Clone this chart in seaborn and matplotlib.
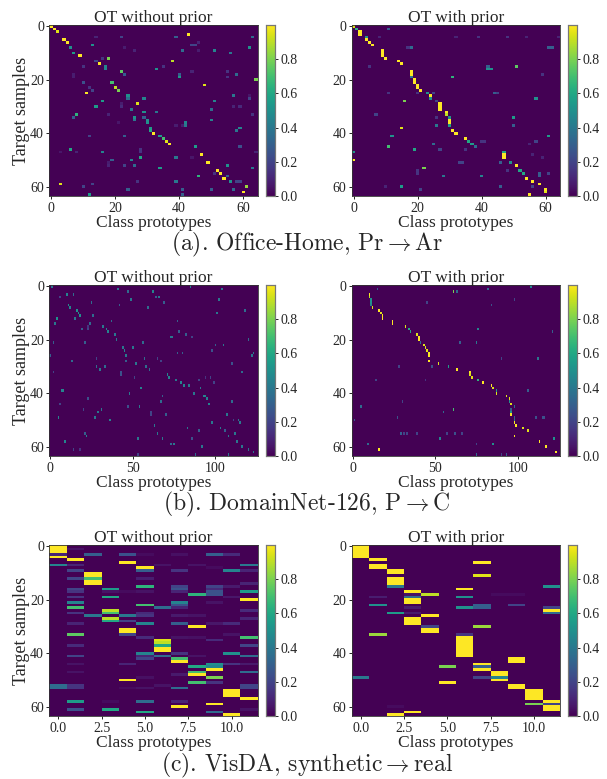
import numpy as np
import matplotlib
matplotlib.use("Agg")
import matplotlib.pyplot as plt
import seaborn as sb

sb.set_theme(style="white")
plt.rcParams['font.family'] = ['Liberation Serif', 'DejaVu Serif']
plt.rcParams['mathtext.fontset'] = 'cm'

n_rows = 64

# cells: (row, column, value), everything else is 0
office_without = [
    (0,0,1),(1,1,1),(2,2,.95),(5,4,1),(6,5,1),(8,6,.5),(10,7,.55),(11,9,1),(14,15,1),(12,18,.8),(7,13,.5),
    (21,19,.7),(23,20,.9),(24,21,.8),(17,22,.75),(18,23,.3),(15,17,.45),(16,17,.45),(25,11,1),(30,14,.55),
    (28,16,.55),(33,8,.65),(34,7,.3),(26,24,.5),(27,24,.35),(29,27,.95),(27,29,.45),(31,25,.4),(32,29,.5),
    (32,33,.4),(34,26,.5),(35,26,.4),(34,29,.3),(35,30,.5),(36,30,.5),(38,31,.55),(39,31,.6),(40,32,1),
    (41,34,.55),(42,35,.7),(43,36,.95),(44,37,1),(45,45,.55),(48,47,1),(51,49,1),(54,52,1),(55,53,1),(57,54,1),
    (56,55,.3),(58,56,.5),(61,57,.35),(62,60,1),(60,61,.85),(52,55,.5),(56,46,.65),(53,34,.55),(49,28,.6),
    (50,25,.45),(52,26,.35),(50,19,.3),(46,6,.6),(47,16,.45),(49,39,.4),(41,23,.3),(41,12,.2),(59,3,.95),
    (63,12,.55),(61,24,.3),(58,39,.4),(61,41,.3),(63,41,.3),(61,50,.3),(60,10,.2),(59,13,.2),(3,43,1),(13,38,.9),
    (16,33,.5),(18,40,.3),(19,40,.55),(22,48,.95),(20,64,.8),(4,63,.35),(8,62,.5),(10,56,.4),(9,51,.45),(9,41,.35),
    (4,39,.3),(4,22,.2),(7,44,.2),(7,45,.2),(18,58,.35),(26,57,.4),(28,51,.45),(31,50,.35),(35,50,.45),(38,59,.45),
    (39,58,.4),(36,42,.45),(37,42,.4),(45,59,.25),(53,63,.4),(33,63,.15),(27,62,.2),(21,10,.25),(15,10,.15),
    (23,12,.15),(24,13,.2),(13,14,.2),(12,16,.15),(15,35,.15),(17,44,.1),(17,55,.15),(19,55,.15),(19,7,.08),
    (18,7,.08),(46,28,.15),(47,28,.15),(52,18,.1),(52,23,.2),(55,51,.15),(58,59,.2),(58,58,.2),(47,64,.1),
    (58,27,.15),(4,14,.1),(9,26,.1),(8,23,.08),(30,22,.12),(29,22,.08),(30,57,.1),(30,59,.12),(37,41,.08),
    (37,39,.08),(33,18,.1),(47,3,.06),(47,8,.1),(51,18,.08),(49,44,.06),(36,21,.06),(26,62,.06),(6,46,.1),(9,46,.08),
]
office_with = [
    (0,0,.95),(1,1,.65),(2,2,1),(3,2,1),(4,4,.5),(5,4,1),(6,5,1),(7,6,1),(9,9,1),(10,9,1),(11,9,1),(12,10,1),
    (1,11,.3),(13,14,1),(14,15,1),(17,18,1),(18,18,1),(19,18,.4),(20,19,1),(21,19,1),(22,20,1),(23,20,1),(24,21,1),
    (25,23,.5),(26,24,1),(27,24,.5),(29,27,1),(30,27,1),(31,27,1),(32,29,1),(33,29,.9),(34,30,.5),(35,30,1),
    (36,30,1),(37,30,.55),(39,31,1),(40,32,1),(42,35,1),(43,36,.6),(44,37,.55),(45,38,.35),(47,47,.6),(48,47,1),
    (49,47,1),(51,49,.5),(51,46,.3),(52,51,1),(54,52,.6),(55,53,.6),(57,54,1),(58,56,1),(59,58,1),(61,60,1),
    (62,60,.95),(63,55,1),(15,51,.75),(15,42,.3),(16,42,.5),(16,43,.5),(19,31,.65),(28,16,.8),(38,15,.95),(41,12,.5),
    (45,11,.7),(46,19,.6),(53,22,.8),(47,0,.5),(50,0,1),(60,15,.55),(56,28,.4),(56,40,.45),(34,50,.55),(37,50,.3),
    (27,57,.5),(41,61,.55),(8,61,.3),(8,62,.3),(8,18,.35),(8,17,.15),(25,44,.3),(25,45,.2),(44,25,.35),(34,26,.15),
    (37,26,.4),(51,33,.2),(51,34,.2),(55,58,.3),(56,58,.3),(54,20,.15),(55,20,.15),(61,21,.2),(33,7,.2),(15,5,.15),
    (18,59,.15),(46,27,.2),(46,35,.15),(43,40,.15),(43,41,.15),(43,57,.2),(44,55,.1),(48,56,.1),(60,46,.3),(60,56,.2),
    (55,61,.2),(60,10,.1),(25,11,.15),(25,25,.2),(4,39,.15),(4,32,.1),(4,48,.15),(4,54,.1),(4,64,.1),(4,8,.1),
    (49,59,.1),(54,48,.15),(28,26,.2),(25,20,.15),
]
domain_without = [
    (0,1,.4),(1,41,.4),(2,47,.35),(2,62,.45),(0,85,.45),(1,104,.4),(3,10,.45),(3,14,.35),(4,6,.2),(4,64,.3),(4,66,.4),
    (5,49,.4),(6,69,.3),(6,25,.35),(5,102,.4),(7,11,.5),(8,12,.45),(7,42,.3),(8,59,.35),(9,16,.5),(10,17,.5),(11,18,.5),
    (9,118,.35),(10,101,.4),(11,26,.35),(12,4,.5),(12,15,.4),(14,3,.4),(14,24,.35),(13,37,.35),(13,77,.3),(15,32,.4),
    (16,34,.45),(17,35,.45),(16,19,.3),(15,23,.15),(16,23,.2),(18,39,.4),(20,40,.4),(17,78,.3),(18,82,.3),(19,73,.4),
    (19,74,.4),(19,86,.2),(20,120,.35),(21,2,.3),(21,21,.3),(21,56,.35),(23,44,.4),(24,45,.45),(23,50,.4),(22,100,.3),
    (22,105,.4),(24,98,.25),(25,77,.3),(25,80,.3),(26,46,.4),(28,46,.3),(26,122,.4),(25,123,.4),(26,0,.3),(27,57,.35),
    (27,65,.2),(27,28,.2),(28,13,.35),(29,52,.4),(28,67,.2),(29,110,.25),(30,28,.35),(30,33,.35),(31,30,.4),(30,58,.35),
    (31,60,.35),(32,2,.2),(32,43,.25),(33,43,.25),(32,116,.35),(33,71,.45),(34,72,.45),(35,76,.4),(36,79,.45),(37,81,.45),
    (37,84,.4),(34,51,.2),(35,90,.2),(34,94,.15),(34,97,.2),(36,99,.2),(38,55,.45),(38,91,.4),(39,7,.45),(39,8,.45),
    (40,87,.4),(40,48,.4),(41,68,.3),(41,93,.45),(41,94,.45),(42,95,.45),(44,96,.45),(42,23,.25),(43,67,.35),(43,110,.35),
    (45,54,.4),(44,6,.2),(45,47,.25),(46,31,.4),(47,29,.4),(49,27,.4),(46,20,.2),(49,5,.45),(47,61,.2),(48,61,.2),
    (48,70,.3),(48,107,.4),(50,36,.45),(50,111,.2),(50,114,.4),(51,115,.4),(51,98,.4),(52,63,.4),(53,83,.4),(54,90,.3),
    (53,103,.4),(54,106,.3),(56,108,.4),(55,112,.4),(55,65,.4),(55,21,.3),(56,22,.45),(57,53,.4),(57,68,.4),(57,86,.25),
    (58,9,.45),(58,113,.4),(59,73,.35),(59,75,.4),(60,92,.4),(60,116,.4),(61,120,.4),(62,123,.4),(61,14,.2),(63,88,.35),
    (63,108,.4),(63,53,.2),(61,18,.15),
]
domain_with = [
    (3,10,1),(4,10,.9),(5,11,.5),(6,11,.5),(7,11,.45),(8,12,.95),(9,16,1),(10,17,.95),(11,18,1),(12,18,1),(13,24,1),
    (14,24,1),(15,32,.95),(16,34,.6),(17,35,.6),(18,39,.95),(19,40,1),(20,40,1),(21,41,.35),(22,43,.95),(23,44,.95),
    (24,45,.95),(25,46,1),(26,46,1),(28,46,1),(29,52,.95),(30,58,.55),(31,63,1),(32,71,1),(33,71,.95),(34,72,.95),
    (35,76,.65),(36,79,1),(37,84,1),(38,85,.95),(39,87,.55),(40,87,.95),(41,93,.95),(42,95,.95),(43,95,.5),(44,96,.95),
    (46,96,.3),(47,96,.5),(48,96,1),(49,98,.3),(50,98,.35),(51,98,1),(52,99,1),(53,103,.95),(54,106,.95),(56,98,1),
    (58,113,1),(60,117,1),(62,123,1),(61,16,1),(2,61,.8),(2,63,.35),(0,108,.45),(1,82,.35),(1,15,.3),(7,84,.25),(5,98,.2),
    (6,45,.2),(16,76,.45),(21,75,.4),(21,65,.3),(17,121,.3),(27,112,.4),(27,90,.2),(30,28,.2),(35,14,.2),(35,44,.15),
    (39,106,.3),(45,98,.35),(45,5,.35),(43,30,.2),(46,61,.7),(47,55,.35),(49,27,.25),(50,1,.3),(49,111,.25),(49,115,.25),
    (49,116,.25),(55,29,.3),(55,31,.2),(55,33,.2),(55,39,.2),(55,57,.2),(55,62,.25),(55,66,.2),(57,53,.45),(59,9,.35),
    (59,85,.5),(59,75,.2),(57,122,.5),(63,75,.35),(63,93,.3),(63,90,.2),(30,48,.25),
]
visda_without = [
    (0,0,1),(1,0,1),(2,0,1),(3,0,.1),(4,0,1),(7,0,.45),(52,0,.35),(53,0,.35),
    (1,1,.05),(5,1,1),(7,1,.1),(9,1,.2),(12,1,.2),(16,1,.2),(17,1,.15),(19,1,.15),(21,1,.45),(23,1,.7),(25,1,.15),
    (29,1,.1),(33,1,.75),(37,1,.12),(41,1,.2),(44,1,.05),(47,1,.05),(52,1,.15),(53,1,.15),(58,1,.55),(61,1,.25),
    (3,2,.3),(10,2,1),(11,2,1),(12,2,.7),(13,2,1),(14,2,1),(26,2,.4),
    (16,3,.55),(17,3,.05),(19,3,.6),(24,3,.9),(25,3,.7),(27,3,.9),(28,3,.6),(58,3,.03),(61,3,.6),
    (3,4,.25),(6,4,1),(17,4,.03),(26,4,.4),(28,4,.2),(31,4,1),(32,4,1),(33,4,.2),(44,4,.1),(50,4,1),(53,4,.03),
    (3,5,.03),(8,5,1),(9,5,.3),(12,5,.08),(15,5,.65),(17,5,.05),(22,5,.7),(25,5,.12),(26,5,.15),(29,5,.45),(34,5,.12),
    (40,5,.45),(41,5,.1),(42,5,.2),(49,5,.04),(53,5,.05),(58,5,.35),(62,5,.6),
    (7,6,.05),(23,6,.35),(35,6,.95),(36,6,.9),(37,6,.6),(38,6,1),(39,6,1),(41,6,.35),(52,6,.05),
    (3,7,.04),(9,7,.15),(15,7,.2),(16,7,.25),(17,7,.1),(21,7,.45),(22,7,.25),(23,7,.1),(26,7,.07),(29,7,.3),(34,7,.05),
    (40,7,.15),(42,7,.7),(43,7,1),(48,7,.07),(53,7,.35),(58,7,.1),(60,7,1),
    (7,8,.05),(18,8,.65),(26,8,.05),(30,8,1),(34,8,.04),(41,8,.05),(45,8,.6),(47,8,.7),(48,8,1),(51,8,.7),
    (3,9,.3),(8,9,.03),(15,9,.2),(16,9,.12),(17,9,.25),(18,9,.25),(21,9,.05),(29,9,.06),(35,9,.12),(44,9,.5),(45,9,.45),
    (46,9,1),(49,9,.8),(51,9,.15),(59,9,1),(62,9,.35),
    (3,10,.12),(9,10,.45),(15,10,.07),(19,10,.06),(29,10,.12),(33,10,.05),(40,10,.5),(44,10,.15),(54,10,1),(55,10,1),
    (56,10,1),(63,10,1),
    (7,11,.4),(9,11,.1),(14,11,.1),(17,11,.55),(20,11,1),(24,11,.12),(27,11,.1),(34,11,.7),(37,11,.2),(41,11,.35),
    (44,11,.07),(47,11,.35),(52,11,.2),(53,11,.2),(57,11,1),(61,11,.05),
]
visda_with = [
    (0,0,1),(1,0,1),(2,0,1),(3,0,1),(4,0,1),(49,0,.4),
    (5,1,1),(7,1,1),(8,1,1),(19,1,.08),(22,1,.5),(33,1,.85),
    (9,2,1),(10,2,1),(12,2,1),(13,2,1),(14,2,1),(15,2,.4),(25,2,.55),(60,2,.03),(63,2,1),
    (17,3,1),(18,3,.05),(19,3,.35),(20,3,1),(21,3,1),(23,3,.07),(25,3,.07),(27,3,1),(28,3,1),(29,3,1),(62,3,1),
    (18,4,.9),(26,4,1),(30,4,.2),(31,4,1),(32,4,1),
    (45,5,.8),(51,5,1),
    (16,6,1),(19,6,.5),(23,6,.5),(33,6,.15),(34,6,1),(35,6,1),(36,6,1),(37,6,1),(38,6,1),(39,6,1),(40,6,1),(41,6,1),
    (6,7,1),(11,7,.95),(22,7,.3),(23,7,.3),(30,7,.85),(44,7,1),(45,7,.3),(46,7,1),(49,7,.2),
    (18,8,.03),(47,8,1),(48,8,1),(49,8,.45),(50,8,1),
    (18,9,.03),(22,9,.2),(42,9,1),(43,9,1),(52,9,1),(53,9,1),
    (54,10,1),(55,10,1),(56,10,1),(57,10,1),(59,10,.8),
    (15,11,.5),(23,11,.2),(24,11,1),(25,11,.35),(58,11,1),(59,11,.2),(60,11,1),(61,11,1),
]

office_cols = 65
domain_cols = 126
visda_cols = 12

office_ticks = [0, 20, 40, 60]
domain_ticks = [0, 50, 100]
visda_ticks = [0, 2.5, 5, 7.5, 10]
visda_labels = ['0.0', '2.5', '5.0', '7.5', '10.0']
y_ticks = [0, 20, 40, 60]
cbar_ticks = [0, 0.2, 0.4, 0.6, 0.8]

captions = [
    r'$\text{(a). Office-Home, Pr}\rightarrow\text{Ar}$',
    r'$\text{(b). DomainNet-126, P}\rightarrow\text{C}$',
    r'$\text{(c). VisDA, synthetic}\rightarrow\text{real}$',
]

W, H = 607, 779


def box(x0, y0, x1, y1):
    # pixel box, measured from the top left
    return [x0 / W, 1 - y1 / H, (x1 - x0) / W, (y1 - y0) / H]


def to_matrix(cells, n_cols):
    mat = np.zeros((n_rows, n_cols))
    for r, c, v in cells:
        mat[r, c] = v
    return mat


def draw(cells, n_cols, xticks, xlabels, title, x0, top, ylabel):
    ax = fig.add_axes(box(x0, top, x0 + 208, top + 171))
    cax = fig.add_axes(box(x0 + 216, top, x0 + 225, top + 171))
    sb.heatmap(to_matrix(cells, n_cols), ax=ax, cbar_ax=cax, cmap='viridis', vmin=0, vmax=1,
               xticklabels=False, yticklabels=False)
    ax.set_xticks(np.array(xticks) + 0.5)
    ax.set_xticklabels(xlabels, rotation=0, fontsize=10)
    ax.set_yticks(np.array(y_ticks) + 0.5)
    ax.set_yticklabels(y_ticks, rotation=0, fontsize=10)
    ax.tick_params(left=True, bottom=True, length=2, width=0.6, pad=2, color='black')
    for s in ax.spines.values():
        s.set_visible(True)
        s.set_linewidth(0.6)
        s.set_color('#333333')
    ax.set_title(title, fontsize=12.5, pad=2.5)
    ax.set_xlabel('Class prototypes', fontsize=12.5, labelpad=0.5)
    if ylabel:
        ax.set_ylabel('Target samples', fontsize=13, labelpad=0)
    cax.set_yticks(cbar_ticks)
    cax.set_yticklabels(['0.0', '0.2', '0.4', '0.6', '0.8'], fontsize=10)
    cax.tick_params(right=True, length=2, width=0.6, pad=2, color='black')
    for s in cax.spines.values():
        s.set_visible(True)
        s.set_linewidth(0.8)
        s.set_color('#777777')


fig = plt.figure(figsize=(W / 100, H / 100), dpi=100)

tops = [25, 285, 545]
panels = [
    (office_without, office_with, office_cols, office_ticks, office_ticks),
    (domain_without, domain_with, domain_cols, domain_ticks, domain_ticks),
    (visda_without, visda_with, visda_cols, visda_ticks, visda_labels),
]
for top, (left, right, n_cols, ticks, labels) in zip(tops, panels):
    draw(left, n_cols, ticks, labels, 'OT without prior', 49.5, top, True)
    draw(right, n_cols, ticks, labels, 'OT with prior', 352, top, False)

caption_y = [244, 504, 765]
for y, text in zip(caption_y, captions):
    fig.text(307 / W, 1 - y / H, text, ha='center', va='center', fontsize=17)

plt.savefig('out.png', dpi=100)
